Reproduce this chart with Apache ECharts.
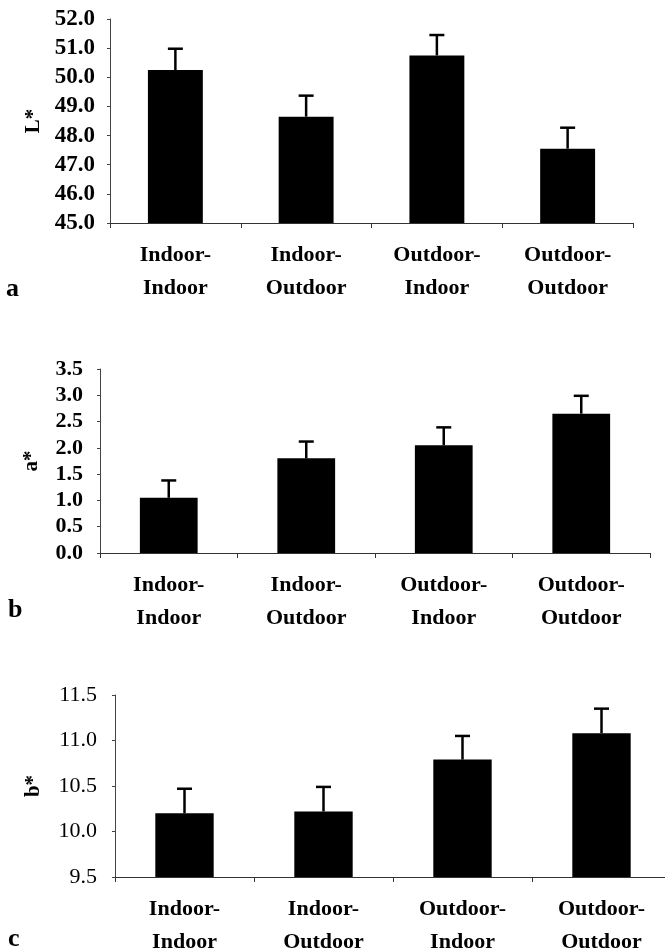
<!DOCTYPE html>
<html>
<head>
<meta charset="utf-8">
<script src="https://cdn.jsdelivr.net/npm/echarts@6/dist/echarts.min.js"></script>
<style>
html,body{margin:0;padding:0;background:#fff;}
#chart{width:665px;height:952px;}
</style>
</head>
<body>
<div id="chart"></div>
<script>
const categories = ['Indoor-\nIndoor', 'Indoor-\nOutdoor', 'Outdoor-\nIndoor', 'Outdoor-\nOutdoor'];

const lValues = [50.25, 48.65, 50.75, 47.55];
const lErrors = [0.73, 0.72, 0.70, 0.72];
const lAxis = { min: 45, max: 52, interval: 1 };

const aValues = [1.05, 1.80, 2.05, 2.65];
const aErrors = [0.33, 0.32, 0.34, 0.34];
const aAxis = { min: 0, max: 3.5, interval: 0.5 };

const bValues = [10.20, 10.22, 10.79, 11.08];
const bErrors = [0.27, 0.27, 0.26, 0.27];
const bAxis = { min: 9.5, max: 11.5, interval: 0.5 };

const panelNames = ['L*', 'a*', 'b*'];
const panelLetters = ['a', 'b', 'c'];

const FONT = 'Liberation Serif';

const chart = echarts.init(document.getElementById('chart'));

function errRender(params, api) {
  const i = api.value(0);
  const lo = api.coord([i, api.value(1)]);
  const hi = api.coord([i, api.value(2)]);
  const half = 7.5;
  return {
    type: 'group',
    children: [
      { type: 'line', shape: { x1: lo[0], y1: lo[1], x2: hi[0], y2: hi[1] }, style: { stroke: '#000', lineWidth: 2.5 } },
      { type: 'line', shape: { x1: hi[0] - half, y1: hi[1], x2: hi[0] + half, y2: hi[1] }, style: { stroke: '#000', lineWidth: 2.5 } }
    ]
  };
}

const grids = [
  { left: 110, top: 19, width: 523, height: 204, containLabel: false, outerBoundsMode: 'none' },
  { left: 100, top: 369, width: 550, height: 184, containLabel: false, outerBoundsMode: 'none' },
  { left: 115, top: 695, width: 556, height: 182, containLabel: false, outerBoundsMode: 'none' }
];
const axesCfg = [lAxis, aAxis, bAxis];
const valuesAll = [lValues, aValues, bValues];
const errorsAll = [lErrors, aErrors, bErrors];
const tickWeight = ['bold', 'bold', 'normal'];
const tickSize = [23, 22, 22];
const tickMargin = [15, 17, 18];
const nameGaps = [66, 58, 71];

const xAxes = [], yAxes = [], series = [];
for (let k = 0; k < 3; k++) {
  xAxes.push({
    type: 'category', gridIndex: k, data: categories,
    axisLine: { lineStyle: { color: '#333', width: 1.2 } },
    axisTick: { show: true, length: 5, lineStyle: { color: '#333' } },
    axisLabel: { fontFamily: FONT, fontWeight: 'bold', fontSize: 22, color: '#000', lineHeight: 33, margin: 16 }
  });
  yAxes.push({
    type: 'value', gridIndex: k, min: axesCfg[k].min, max: axesCfg[k].max, interval: axesCfg[k].interval,
    name: panelNames[k], nameLocation: 'middle', nameRotate: 90, nameGap: nameGaps[k],
    nameTextStyle: { fontFamily: FONT, fontWeight: 'bold', fontSize: 21, color: '#000' },
    axisLine: { show: true, lineStyle: { color: '#444', width: 1 } },
    axisTick: { show: true, length: 3, lineStyle: { color: '#444' } },
    splitLine: { show: false },
    axisLabel: {
      fontFamily: FONT, fontWeight: tickWeight[k], fontSize: tickSize[k], color: '#000', margin: tickMargin[k],
      formatter: v => v.toFixed(1)
    }
  });
  series.push({
    type: 'bar', xAxisIndex: k, yAxisIndex: k, data: valuesAll[k], barWidth: '42%',
    itemStyle: { color: '#000' }, silent: true, animation: false
  });
  series.push({
    type: 'custom', xAxisIndex: k, yAxisIndex: k, renderItem: errRender,
    encode: { x: 0, y: [1, 2] },
    data: valuesAll[k].map((v, i) => [i, v, v + errorsAll[k][i]]),
    silent: true, animation: false, z: 3
  });
}

chart.setOption({
  animation: false,
  grid: grids,
  xAxis: xAxes,
  yAxis: yAxes,
  series: series,
  graphic: [
    { type: 'text', left: 6, top: 276, style: { text: panelLetters[0], font: 'bold 26px "Liberation Serif"', fill: '#000' } },
    { type: 'text', left: 8, top: 597, style: { text: panelLetters[1], font: 'bold 26px "Liberation Serif"', fill: '#000' } },
    { type: 'text', left: 8, top: 926, style: { text: panelLetters[2], font: 'bold 26px "Liberation Serif"', fill: '#000' } }
  ]
});
</script>
</body>
</html>
